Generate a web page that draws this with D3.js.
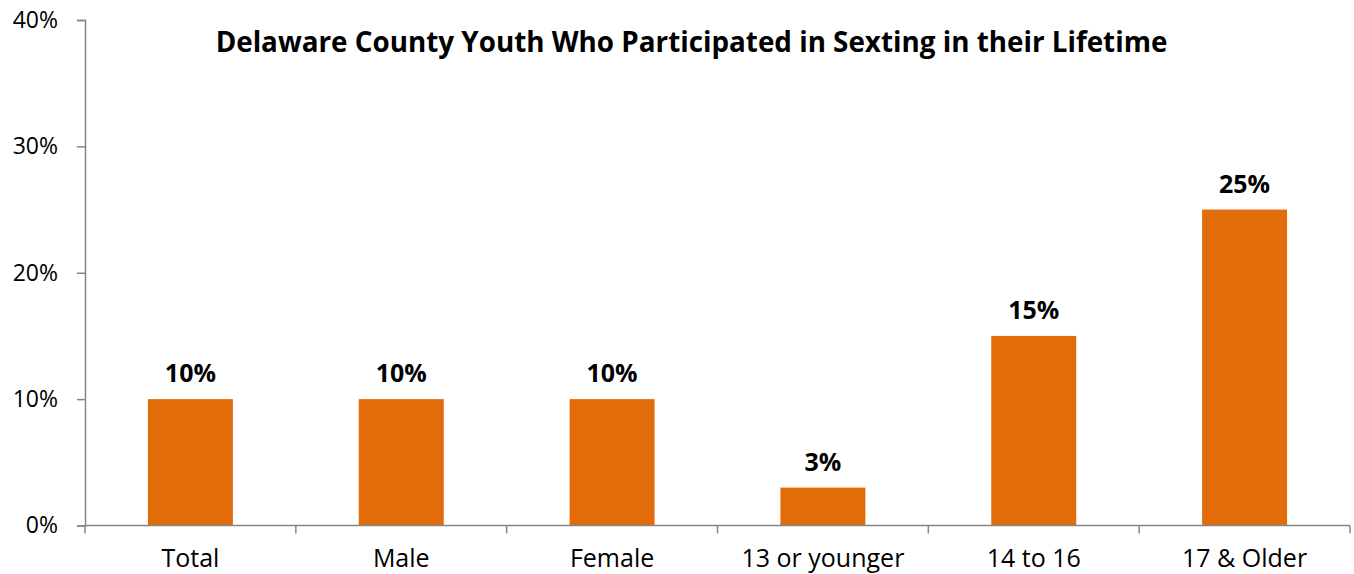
<!DOCTYPE html>
<html>
<head>
<meta charset="utf-8">
<script src="https://cdn.jsdelivr.net/npm/d3@7"></script>
<style>
  body { margin: 0; background: #fff; }
  text { font-family: "Open Sans", sans-serif; fill: #000; }
</style>
</head>
<body>
<svg id="chart" width="1354" height="574"></svg>
<script>
const categories = ["Total", "Male", "Female", "13 or younger", "14 to 16", "17 & Older"];
const values = [0.10, 0.10, 0.10, 0.03, 0.15, 0.25];
const yTicks = [0, 0.1, 0.2, 0.3, 0.4];
const title = "Delaware County Youth Who Participated in Sexting in their Lifetime";

const svg = d3.select("#chart");
const plotLeft = 85, plotRight = 1350, plotTop = 20, plotBottom = 525.5;

const x = d3.scaleBand()
    .domain(categories)
    .range([plotLeft, plotRight])
    .paddingInner(0.597)
    .paddingOuter(0.2985);

const y = d3.scaleLinear()
    .domain([0, 0.4])
    .range([plotBottom, plotTop]);

// bars
svg.selectAll("rect.bar")
    .data(values)
    .join("rect")
    .attr("class", "bar")
    .attr("x", (d, i) => x(categories[i]))
    .attr("y", d => y(d))
    .attr("width", x.bandwidth())
    .attr("height", d => y(0) - y(d))
    .attr("fill", "#e36c0a");

// y axis
const yAxis = svg.append("g")
    .attr("transform", `translate(${plotLeft},0)`)
    .call(d3.axisLeft(y).tickValues(yTicks).tickFormat(d3.format(".0%")).tickSize(8).tickPadding(19));
yAxis.select(".domain").attr("stroke", "#868686").attr("stroke-width", 1.5);
yAxis.selectAll(".tick line").attr("stroke", "#868686").attr("stroke-width", 1.5);
yAxis.selectAll(".tick text").attr("font-size", 23).attr("font-family", "Open Sans").attr("fill", "#000");

// x axis line + boundary ticks
const xAxis = svg.append("g");
xAxis.append("line")
    .attr("x1", plotLeft).attr("x2", plotRight)
    .attr("y1", y(0)).attr("y2", y(0))
    .attr("stroke", "#868686").attr("stroke-width", 1.5);
const edges = [plotLeft].concat(categories.map((c, i) => plotLeft + x.step() * (i + 1)));
xAxis.selectAll("line.tick")
    .data(edges)
    .join("line")
    .attr("class", "tick")
    .attr("x1", d => d).attr("x2", d => d)
    .attr("y1", y(0)).attr("y2", y(0) + 8)
    .attr("stroke", "#868686").attr("stroke-width", 1.5);
xAxis.selectAll("text")
    .data(categories)
    .join("text")
    .attr("x", d => x(d) + x.bandwidth() / 2)
    .attr("y", 567)
    .attr("text-anchor", "middle")
    .attr("font-size", 25)
    .text(d => d);

// data labels
svg.selectAll("text.label")
    .data(values)
    .join("text")
    .attr("class", "label")
    .attr("x", (d, i) => x(categories[i]) + x.bandwidth() / 2)
    .attr("y", d => y(d) - 17)
    .attr("text-anchor", "middle")
    .attr("font-size", 25)
    .attr("font-weight", "bold")
    .text(d => d3.format(".0%")(d));

// title
svg.append("text")
    .attr("x", 691.5)
    .attr("y", 52)
    .attr("text-anchor", "middle")
    .attr("font-size", 27.8)
    .attr("font-weight", "bold")
    .text(title);
</script>
</body>
</html>
